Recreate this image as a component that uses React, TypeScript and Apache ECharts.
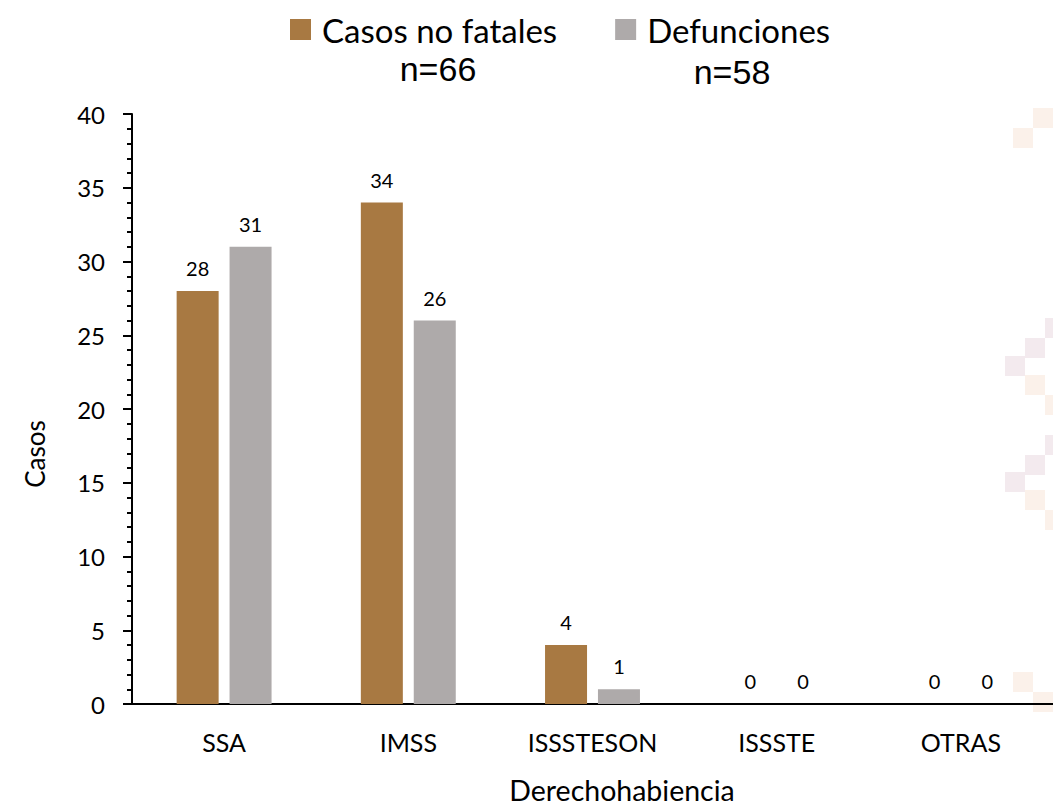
import React, { useEffect, useRef } from "react";
import * as echarts from "echarts";

const categories = ["SSA", "IMSS", "ISSSTESON", "ISSSTE", "OTRAS"];
const noFatales = [28, 34, 4, 0, 0];
const defunciones = [31, 26, 1, 0, 0];
const seriesNames = ["Casos no fatales", "Defunciones"];
const totals = ["n=66", "n=58"];
const xTitle = "Derechohabiencia";
const yTitle = "Casos";

const FONT = "Lato, 'Open Sans', sans-serif";
const ARIAL = "'Liberation Sans', Arial, sans-serif";
const BROWN = "#A87942";
const GRAY = "#AEAAAA";

const App: React.FC = () => {
  const ref = useRef<HTMLDivElement>(null);
  useEffect(() => {
    if (!ref.current) return;
    const chart = echarts.init(ref.current, undefined, { renderer: "svg" });
    const peach = "#FBF1EA";
    const pink = "#F3EAEE";
    const sq = (x: number, y: number, c: string) => ({
      type: "rect",
      shape: { x, y, width: 20, height: 20 },
      style: { fill: c },
      z: -10,
      silent: true,
    });
    chart.setOption({
      animation: false,
      backgroundColor: "#ffffff",
      textStyle: { fontFamily: FONT },
      legend: {
        data: seriesNames,
        left: 285,
        top: 8,
        itemWidth: 21,
        itemHeight: 21,
        itemGap: 58,
        icon: "rect",
        textStyle: { fontSize: 33, color: "#000", fontFamily: FONT, padding: [0, 0, 0, 6] },
      },
      graphic: [
        { type: "text", x: 438, y: 52, style: { text: totals[0], fontSize: 34, fill: "#000", fontFamily: ARIAL, align: "center", verticalAlign: "top" } },
        { type: "text", x: 732, y: 55, style: { text: totals[1], fontSize: 34, fill: "#000", fontFamily: ARIAL, align: "center", verticalAlign: "top" } },
        { type: "text", x: 35, y: 454, rotation: Math.PI / 2, style: { text: yTitle, fontSize: 26, fill: "#000", fontFamily: FONT, align: "center", verticalAlign: "middle" } },
        { type: "text", x: 622, y: 790, style: { text: xTitle, fontSize: 28.5, fill: "#000", fontFamily: FONT, align: "center", verticalAlign: "middle" } },
        sq(1033, 108, peach),
        sq(1013, 128, peach),
        sq(1045, 318, pink),
        sq(1025, 338, pink),
        sq(1005, 356, pink),
        sq(1025, 375, peach),
        sq(1045, 395, peach),
        sq(1045, 435, pink),
        sq(1025, 455, pink),
        sq(1005, 472, pink),
        sq(1025, 490, peach),
        sq(1045, 510, peach),
        sq(1013, 672, peach),
        sq(1033, 692, peach),
      ],
      grid: { left: 132, top: 114, width: 937.5, height: 590 },
      xAxis: {
        type: "category",
        data: categories,
        axisLine: { lineStyle: { color: "#000", width: 2 } },
        axisTick: { alignWithLabel: true, length: 6, lineStyle: { color: "#000", width: 2 } },
        axisLabel: { fontSize: 25, color: "#000", margin: 25, fontFamily: FONT },
      },
      yAxis: {
        type: "value",
        min: 0,
        max: 40,
        interval: 5,
        axisLine: { show: true, lineStyle: { color: "#000", width: 2 } },
        axisTick: { show: true, length: 9, lineStyle: { color: "#000", width: 2 } },
        minorTick: { show: true, splitNumber: 5, length: 5, lineStyle: { color: "#000", width: 2 } },
        splitLine: { show: false },
        axisLabel: { fontSize: 24, color: "#000", margin: 27, fontFamily: FONT },
      },
      series: [
        {
          name: seriesNames[0],
          type: "bar",
          data: noFatales,
          barWidth: 42,
          barGap: "26%",
          itemStyle: { color: BROWN },
          label: { show: true, position: "top", distance: 13, fontSize: 20, color: "#000", fontFamily: FONT },
        },
        {
          name: seriesNames[1],
          type: "bar",
          data: defunciones,
          barWidth: 42,
          itemStyle: { color: GRAY },
          label: { show: true, position: "top", distance: 13, fontSize: 20, color: "#000", fontFamily: FONT },
        },
      ],
    });
    return () => chart.dispose();
  }, []);
  return (
    <div
      ref={ref}
      style={{ position: "fixed", left: 0, top: 0, width: 1053, height: 806, background: "#fff" }}
    />
  );
};

export default App;
